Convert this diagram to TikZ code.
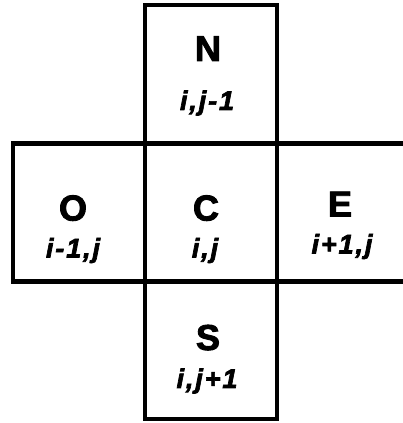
\documentclass[tikz,border=0pt]{standalone}
\usepackage{fontspec}
\setmainfont{Liberation Sans}
\begin{document}
\begin{tikzpicture}[x=1pt,y=1pt,
  cell/.style={draw,line width=4.5pt,minimum width=132pt,minimum height=138pt,inner sep=0pt},
  big/.style={font=\fontsize{36}{36}\selectfont\bfseries\addfontfeature{FakeBold=2.5},anchor=base},
  idx/.style={font=\fontsize{27}{27}\selectfont\bfseries\itshape\addfontfeature{FakeBold=2.5,LetterSpace=7},anchor=base}]
\useasboundingbox (0,0) rectangle (403,423);
\clip (0,0) rectangle (403,423);
% the five cells
\node[cell] (n) at (211,349) {};
\node[cell] (o) at (79,210.5) {};
\node[cell] (c) at (211,210.5) {};
\node[cell] (e) at (343,210.5) {};
\node[cell] (s) at (211,73) {};
% names and indices
\node[big] at ([xshift=-3pt,yshift=13pt]n.center) {N};
\node[idx] at ([xshift=-4pt,yshift=-36pt]n.center) {i,j-1};
\node[big] at ([xshift=-6pt,yshift=-8pt]o.center) {O};
\node[idx] at ([xshift=-6pt,yshift=-45pt]o.center) {i-1,j};
\node[big] at ([xshift=-5pt,yshift=-8pt]c.center) {C};
\node[idx] at ([xshift=-6pt,yshift=-45pt]c.center) {i,j};
\node[big] at ([xshift=-3pt,yshift=-4pt]e.center) {E};
\node[idx] at ([xshift=-1pt,yshift=-41pt]e.center) {i+1,j};
\node[big] at ([xshift=-3pt,yshift=0pt]s.center) {S};
\node[idx] at ([xshift=-4pt,yshift=-38pt]s.center) {i,j+1};
\end{tikzpicture}
\end{document}
